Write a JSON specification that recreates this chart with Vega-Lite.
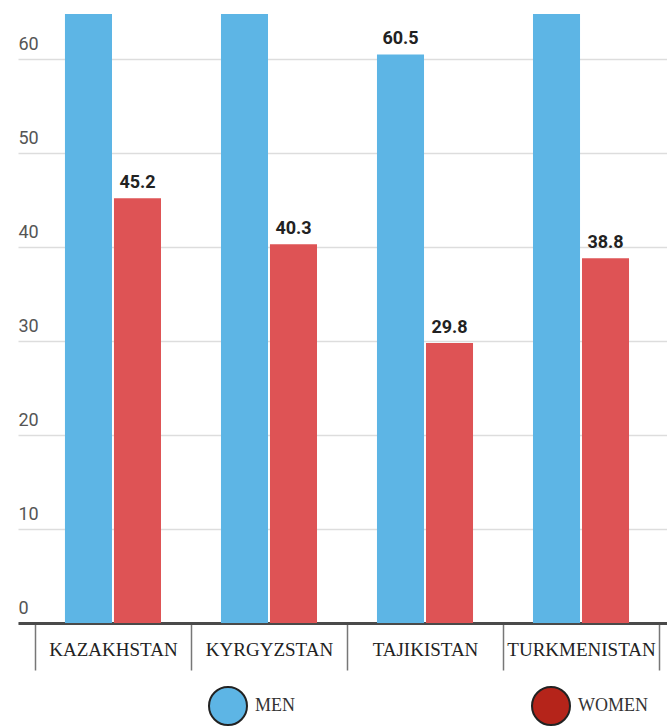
{
  "$schema": "https://vega.github.io/schema/vega-lite/v6.json",
  "width": 649,
  "height": 609,
  "autosize": {"type": "none"},
  "padding": {"left": 18, "top": 14, "right": 0, "bottom": 103},
  "background": "white",
  "data": {
    "values": [
      {"country": "KAZAKHSTAN", "sex": "MEN", "value": 72},
      {"country": "KAZAKHSTAN", "sex": "WOMEN", "value": 45.2},
      {"country": "KYRGYZSTAN", "sex": "MEN", "value": 70},
      {"country": "KYRGYZSTAN", "sex": "WOMEN", "value": 40.3},
      {"country": "TAJIKISTAN", "sex": "MEN", "value": 60.5},
      {"country": "TAJIKISTAN", "sex": "WOMEN", "value": 29.8},
      {"country": "TURKMENISTAN", "sex": "MEN", "value": 71},
      {"country": "TURKMENISTAN", "sex": "WOMEN", "value": 38.8}
    ]
  },
  "config": {
    "view": {"stroke": null},
    "font": "'Liberation Sans Narrow', Roboto, sans-serif"
  },
  "encoding": {
    "x": {
      "field": "country",
      "type": "nominal",
      "sort": null,
      "scale": {"paddingInner": 0, "paddingOuter": 0.08, "align": 0.68},
      "axis": {
        "title": null,
        "labelAngle": 0,
        "domainColor": "#4a4a4a",
        "domainWidth": 3,
        "tickBand": "extent",
        "tickSize": 47,
        "tickColor": "#777777",
        "tickWidth": 1.5,
        "labelPadding": -30,
        "labelFont": "'Liberation Serif', 'DejaVu Serif', serif",
        "labelFontSize": 19,
        "labelColor": "#222222",
        "labelLimit": 200,
        "grid": false
      }
    },
    "xOffset": {
      "field": "sex",
      "type": "nominal",
      "scale": {"paddingInner": 0.04, "paddingOuter": 0.612}
    },
    "y": {
      "field": "value",
      "type": "quantitative",
      "scale": {"domain": [0, 64.8], "nice": false},
      "axis": {
        "title": null,
        "values": [0, 10, 20, 30, 40, 50, 60],
        "domain": false,
        "ticks": false,
        "labelAlign": "left",
        "labelBaseline": "bottom",
        "labelPadding": 0,
        "labelOffset": -6,
        "labelFontSize": 18,
        "labelColor": "#555555",
        "gridColor": "#dddddd",
        "gridWidth": 1.5
      }
    }
  },
  "layer": [
    {
      "mark": {"type": "bar", "clip": true},
      "encoding": {
        "fill": {
          "field": "sex",
          "type": "nominal",
          "scale": {"range": ["#5db5e5", "#de5355"]},
          "legend": null
        }
      }
    },
    {
      "mark": {"type": "point", "filled": true, "opacity": 0, "clip": true, "shape": "circle", "size": 1},
      "encoding": {
        "color": {
          "field": "sex",
          "type": "nominal",
          "scale": {"domain": ["MEN", "WOMEN"], "range": ["#5db5e5", "#b5241a"]},
          "legend": {
            "title": null,
            "orient": "none",
            "direction": "horizontal",
            "legendX": 190,
            "legendY": 672,
            "symbolType": "circle",
            "symbolSize": 1444,
            "symbolOpacity": 1,
            "symbolStrokeColor": "#222222",
            "symbolStrokeWidth": 2,
            "labelFont": "'Liberation Serif', 'DejaVu Serif', serif",
            "labelFontSize": 18,
            "labelColor": "#333333",
            "labelOffset": 7,
            "columnPadding": 233,
            "encoding": {
              "symbols": {
                "stroke": {"value": "#222222"},
                "strokeWidth": {"value": 2},
                "opacity": {"value": 1}
              }
            }
          }
        }
      }
    },
    {
      "transform": [{"filter": "datum.value < 64"}],
      "mark": {
        "type": "text",
        "baseline": "bottom",
        "dy": -6,
        "fontSize": 18,
        "fontWeight": "bold",
        "color": "#222222",
        "clip": true
      },
      "encoding": {
        "text": {"field": "value", "type": "quantitative", "format": ".1f"}
      }
    }
  ]
}
